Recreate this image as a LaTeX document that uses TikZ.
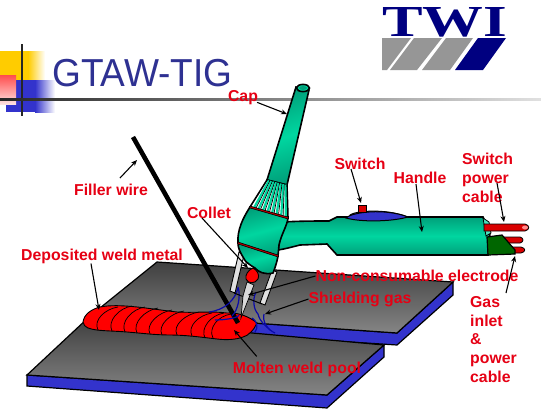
\documentclass[tikz,border=0pt]{standalone}
\usepackage{fontspec}
\setmainfont{Liberation Sans}
\newfontfamily\serifbold{Liberation Serif}
\usetikzlibrary{arrows.meta,shadings,fadings,calc}
\definecolor{lblred}{RGB}{230,0,20}
\definecolor{titleblue}{RGB}{46,49,146}
\definecolor{navy}{RGB}{0,0,128}
\definecolor{plateblue}{RGB}{51,51,204}
\definecolor{gasblue}{RGB}{10,10,170}
\definecolor{tealm}{RGB}{0,214,160}
\definecolor{teald}{RGB}{0,160,122}
\definecolor{logogray}{RGB}{150,150,150}
\definecolor{gold}{RGB}{255,204,0}
\tikzset{
  lbl/.style={text=lblred,font=\fontsize{15.8}{19}\selectfont\bfseries,inner sep=0pt},
  lblblock/.style={lbl,align=left,anchor=north west},
  lblgas/.style={lblblock,font=\fontsize{15.8}{18.8}\selectfont\bfseries},
  arr/.style={draw=black,line width=1.1pt,-{Stealth[length=6pt,width=5pt]}},
  plate/.style={draw=black,line width=1.2pt,top color=black!75,bottom color=black!48},
  plateside/.style={draw=black,line width=1.2pt,fill=plateblue},
  torch/.style={draw=black,line width=1.6pt},
  weldrip/.style={draw=black,line width=.7pt},
  gas/.style={draw=gasblue,line width=1.2pt},
  cable/.style={draw=black,line width=.8pt,fill=red!85!black},
  logoslab/.style={fill=logogray}
}
\begin{document}
\begin{tikzpicture}[x=1pt,y=-1pt]
\useasboundingbox (0,0) rectangle (541,413);
\fill[white] (0,0) rectangle (541,413);
% template decoration
\fill[gold] (0,51) rectangle (28,80);
\shade[left color=gold,right color=white] (28,51) rectangle (45,80);
\fill[plateblue] (16,80) rectangle (35,112);
\shade[left color=plateblue,right color=white] (35,80) rectangle (55,112);
\fill[plateblue] (6,100) rectangle (24,112);
\shade[top color=red!70,bottom color=red!12] (0,75) rectangle (16,104);
\fill[black!85] (21,44) rectangle (23,116);
\shade[left color=black!85,right color=black!12] (0,98) rectangle (541,100);
\node[anchor=base west,inner sep=0pt,text=titleblue,font=\fontsize{39}{40}\selectfont,xscale=.95,transform shape] (title) at (52,86) {GTAW-TIG};
% logo
\node[anchor=south west,inner sep=0pt,text=navy] (logo) at (382,37) {\resizebox{125pt}{29pt}{\serifbold\bfseries TWI}};
\fill[logoslab] (382,38) -- (411,38) -- (387,70) -- (382,70) -- cycle;
\fill[logoslab] (414,38) -- (442,38) -- (417,70) -- (390,70) -- cycle;
\fill[logoslab] (446,38) -- (473,38) -- (450,70) -- (422,70) -- cycle;
\fill[navy] (478,38) -- (506,38) -- (483,70) -- (455,70) -- cycle;
% back plate
\draw[plateside] (453,282) -- (453,295) -- (397,345) -- (240,335) -- (240,322) -- (397,333) -- cycle;
\draw[plate] (157,262) -- (453,282) -- (397,333) -- (95,312) -- cycle;
% front plate
\draw[plateside] (27,375) -- (27,386) -- (327,408) -- (384,357) -- (384,345) -- (327,395) -- cycle;
\draw[plate] (27,375) -- (88,318) -- (384,345) -- (327,395) -- cycle;
% weld bead
\draw[fill=red,line width=.9pt] (83,322) .. controls (84,314) and (92,309) .. (100,307) .. controls (120,303) and (150,309) .. (177,312) .. controls (195,313) and (212,311) .. (227,313) .. controls (238,312) and (250,317) .. (257,323) .. controls (254,330) and (248,336) .. (243,337) .. controls (235,340) and (225,340) .. (217,339) .. controls (200,337) and (185,335) .. (170,335) .. controls (155,335) and (140,333) .. (127,332) .. controls (115,331) and (105,331) .. (97,330) .. controls (90,329) and (84,328) .. (83,322) -- cycle;
\foreach \x/\w/\ya/\yb in {98/20/330/307,112/20/331/306,125/20/332/307,137/21/333/308,150/22/334/310,162/22/335/311,177/22/335/312,192/20/336/313,205/19/338/313,213/18/338/314}{
  \draw[weldrip] (\x,\ya) .. controls (\x-5,\ya-10) and (\x+\w-13,\yb+2) .. (\x+\w,\yb);
}
% filler wire
\draw[line width=4.6pt,black] (133,137) -- (238,323);
% gas lines
\draw[gas] (209,312) .. controls (225,310) and (235,300) .. (238,288);
\draw[gas] (215,320) .. controls (225,320) and (238,318) .. (239,315);
\draw[gas] (238,287) .. controls (241,296) and (238,310) .. (232,316);
\draw[gas] (256,292) .. controls (252,300) and (254,310) .. (258,314) .. controls (260,322) and (265,325) .. (270,330);
\draw[gas] (264,314) .. controls (262,322) and (268,330) .. (275,333);
\draw[gas] (252,318) .. controls (258,322) and (258,328) .. (255,332);
% shield / electrode
\draw[line width=.9pt,fill=black!12] (239,252) -- (230,291) -- (235,293) -- (244,255) -- cycle;
\draw[line width=.9pt,fill=black!12] (272,270) -- (260,303) -- (265,305) -- (277,272) -- cycle;
\draw[line width=1pt] (234,293) -- (262,304);
\draw[line width=.7pt,fill=black!15] (247,282) -- (254,285) -- (241,318) -- (243,296) -- cycle;
\draw[line width=.9pt,fill=red] (253,268) .. controls (257,270) and (260,275) .. (258,279) .. controls (255,284) and (248,284) .. (246,279) .. controls (245,275) and (248,270) .. (253,268) -- cycle;
% cap
\shade[torch,left color=teald,right color=teald,middle color=tealm,shading angle=18] (296,87) -- (267,180) -- (287,185) -- (309,90) -- cycle;
\draw[torch,fill=tealm] (303,88) ellipse (6.5pt and 3.6pt);
\fill[teald] (303,88) ellipse (4pt and 2pt);
% ribbed skirt
\draw[torch,fill=white] (267,180) -- (287,185) -- (288,218) -- (250,207) -- cycle;
\foreach \t in {.1,.22,.34,.46,.58,.70,.82,.94}{
  \draw[tealm,line width=2.2pt] ($(267,180)!\t!(287,185)$) -- ($(250,207)!\t!(288,218)$);
  \draw[black,line width=.7pt] ($(267,180)!\t+.05!(287,185)$) -- ($(250,207)!\t+.05!(288,218)$);
}
% handle
\shade[torch,top color=teald,bottom color=teald,middle color=tealm] (283,222) .. controls (300,221) and (315,221) .. (329,221) -- (337,217) -- (483,217) -- (490,232) -- (488,255) -- (337,255) -- (327,244) -- (300,245) .. controls (292,247) and (285,249) .. (278,250) -- cycle;
\draw[line width=.8pt,fill=tealm!70!white] (483,218) -- (489,222) -- (491,233) -- (486,236) -- cycle;
% switch
\draw[line width=1pt,fill=black!55] (350,215) .. controls (355,211) and (385,208) .. (408,217) -- (350,218) -- cycle;
\draw[line width=1pt,fill=plateblue] (346,218) .. controls (352,212) and (385,208) .. (408,217) .. controls (390,222) and (360,222) .. (346,218) -- cycle;
\draw[line width=.8pt,fill=red!85!black] (358,205) rectangle (366,212);
% torch head
\shade[torch,left color=teald,right color=teald,middle color=tealm,shading angle=15] (250,207) -- (288,218) .. controls (287,226) and (281,235) .. (279,245) -- (278,256) -- (238,243) .. controls (237,230) and (243,218) .. (250,207) -- cycle;
\shade[torch,left color=teald,right color=teald,middle color=tealm,shading angle=15] (238,243) -- (278,256) .. controls (277,262) and (275,268) .. (273,273) .. controls (265,275) and (258,272) .. (255,268) .. controls (250,265) and (245,262) .. (243,257) .. controls (240,252) and (238,248) .. (238,243) -- cycle;
\draw[line width=2.4pt,black] (238,243) -- (278,256);
\draw[line width=1pt,red!70!black] (238,243) -- (278,256);
\draw[line width=2.4pt,black] (250,207) -- (288,218);
\draw[line width=1pt,red!70!black] (250,207) -- (288,218);
% cable end
\draw[cable] (484,224) -- (525,224) .. controls (530,225) and (530,230) .. (525,231) -- (484,231) -- cycle;
\fill[red!45] (525,227.5) ellipse (3pt and 2pt);
\draw[cable] (500,237) -- (520,237) .. controls (524,238) and (524,242) .. (520,243) -- (500,243) -- cycle;
\draw[cable] (505,247) -- (521,247) .. controls (526,248) and (526,252) .. (521,253) -- (505,253) -- cycle;
\draw[line width=1.2pt,fill=green!40!black] (487,237) -- (502,235) -- (515,250) -- (515,254) -- (488,255) -- cycle;
% labels
\node[lbl] (capL) at (243,98) {Cap};
\node[lbl] (fillerL) at (111,190) {Filler wire};
\node[lbl] (switchL) at (360,164) {Switch};
\node[lbl] (handleL) at (420,178) {Handle};
\node[lblblock] (powerL) at (462,153) {Switch\\power\\cable};
\node[lbl] (colletL) at (209,213) {Collet};
\node[lbl] (depositL) at (102,256) {Deposited weld metal};
\node[lbl] (electrodeL) at (417,276) {Non-consumable electrode};
\node[lbl] (shieldL) at (360,299) {Shielding gas};
\node[lbl] (moltenL) at (297,369) {Molten weld pool};
\node[lblgas] (gasL) at (470,296) {Gas\\inlet\\\&\\power\\cable};
% connector ends
\coordinate (capT) at (287,114);
\coordinate (fillerT) at (137,160);
\coordinate (switchT) at (361,203);
\coordinate (handleT) at (422,232);
\coordinate (powerT) at (504,222);
\coordinate (gasT) at (515,256);
\coordinate (colletT) at (248,268);
\coordinate (depositT) at (99,310);
\coordinate (electrodeT) at (248,295);
\coordinate (shieldT) at (265,314);
\coordinate (moltenT) at (234,330);
\draw[arr] ([xshift=-1pt,yshift=3pt]capL.south east) -- (capT);
\draw[arr] ([xshift=9pt,yshift=6pt]fillerL.north) -- (fillerT);
\draw[arr] ([xshift=-9pt,yshift=1pt]switchL.south) -- (switchT);
\draw[arr] ([xshift=-4pt]handleL.south) -- (handleT);
\draw[arr] ([xshift=35pt,yshift=-30pt]powerL.north west) -- (powerT);
\draw[arr] ([xshift=36pt,yshift=3pt]gasL.north west) -- (gasT);
\draw[arr] ([xshift=-7pt,yshift=1pt]colletL.south) -- (colletT);
\draw[arr] ([xshift=-11pt]depositL.south) -- (depositT);
\draw[arr] (electrodeL.west) -- (electrodeT);
\draw[arr] (shieldL.west) -- (shieldT);
\draw[arr] ([xshift=24pt,yshift=5pt]moltenL.north west) -- (moltenT);
\end{tikzpicture}
\end{document}
